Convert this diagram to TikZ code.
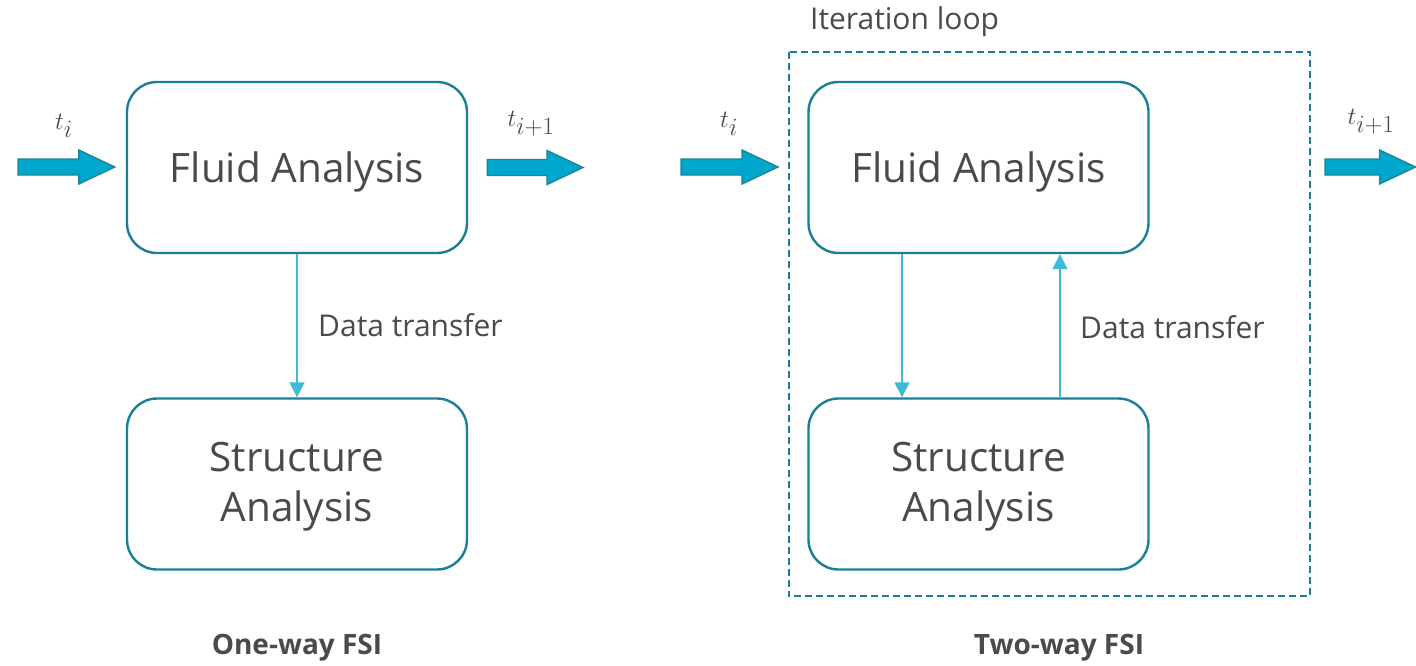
\documentclass[tikz,border=0pt]{standalone}
\usepackage{fontspec}
\setmainfont{Open Sans}
\usetikzlibrary{arrows.meta,calc}
\definecolor{boxc}{HTML}{1A7F96}
\definecolor{thinc}{HTML}{3DBBD9}
\definecolor{fatfill}{HTML}{00A7CC}
\definecolor{fatline}{HTML}{1D8499}
\definecolor{txt}{HTML}{4A4A4A}
\tikzset{
  box/.style={draw=boxc, line width=2.4pt, rounded corners=30pt, minimum width=340pt, minimum height=171pt, align=center, text=txt, font=\fontsize{40.5}{50}\selectfont},
  thin/.style={draw=thinc, line width=1.5pt, -{Triangle[width=15pt,length=15pt]}},
  lbl/.style={text=txt, font=\fontsize{30}{34}\selectfont, inner sep=0pt},
  ttl/.style={text=txt, font=\fontsize{28}{32}\selectfont\bfseries, inner sep=0pt},
  mth/.style={text=txt, font=\fontsize{35}{40}\selectfont, inner sep=0pt},
  fat/.style={draw=fatline, fill=fatfill, line width=1.4pt, line join=miter},
  loop/.style={draw=boxc, line width=2pt, dash pattern=on 7pt off 4pt}
}
\newcommand{\fatarrow}[2]{%
  \path[fat] let \p1=(#1), \p2=(#2) in
    (\x1,\y1+8pt) -- (\x2-36pt,\y1+8pt) -- (\x2-36pt,\y1+17pt) -- (\x2,\y1)
    -- (\x2-36pt,\y1-17pt) -- (\x2-36pt,\y1-8pt) -- (\x1,\y1-8pt) -- cycle;}
\begin{document}
\begin{tikzpicture}[x=1pt,y=-1pt]
\useasboundingbox (0,0) rectangle (1416,666);
% left: one-way
\node[box] (f1) at (297,167.5) {};
\node[text=txt, font=\fontsize{40.5}{50}\selectfont] (f1t) at (297,171.5) {Fluid Analysis};
\node[box] (s1) at (297,484) {};
\node[text=txt, font=\fontsize{40.5}{50}\selectfont, align=center] (s1t) at (297,487) {Structure\\Analysis};
\draw[thin] (f1.south) -- (s1.north);
\node[lbl, anchor=west] (d1) at (318,325) {Data transfer};
\coordinate (a1s) at (18,167);
\coordinate (a1e) at ($(f1.west)+(-11,0)$);
\fatarrow{a1s}{a1e}
\coordinate (a2s) at ($(f1.east)+(19,0)$);
\coordinate (a2e) at (583,167);
\fatarrow{a2s}{a2e}
\node[mth] (t1) at (64,126) {$t_i$};
\node[mth] (t2) at (531,124) {$t_{i+1}$};
\node[ttl] (o1) at (297,648) {One-way FSI};
% right: two-way
\node[box] (f2) at (978.5,167.5) {};
\node[text=txt, font=\fontsize{40.5}{50}\selectfont] (f2t) at (978.5,171.5) {Fluid Analysis};
\node[box] (s2) at (978.5,484) {};
\node[text=txt, font=\fontsize{40.5}{50}\selectfont, align=center] (s2t) at (978.5,487) {Structure\\Analysis};
\draw[thin] (f2.south -| 902,0) -- (s2.north -| 902,0);
\draw[thin] (s2.north -| 1060,0) -- (f2.south -| 1060,0);
\node[lbl, anchor=west] (d2) at (1080,327) {Data transfer};
\node[draw=none, minimum width=521pt, minimum height=544pt, inner sep=0pt] (lp) at (1049.5,324) {};
\draw[loop] (lp.north west) rectangle (lp.south east);
\node[lbl, anchor=west] (it) at (810,22) {Iteration loop};
\coordinate (a3s) at (681,167);
\coordinate (a3e) at (778,167);
\fatarrow{a3s}{a3e}
\coordinate (a4s) at (1325,167);
\coordinate (a4e) at (1415.5,167);
\fatarrow{a4s}{a4e}
\node[mth] (t3) at (729,124) {$t_i$};
\node[mth] (t4) at (1371,122) {$t_{i+1}$};
\node[ttl] (o2) at (1059,648) {Two-way FSI};
\end{tikzpicture}
\end{document}
